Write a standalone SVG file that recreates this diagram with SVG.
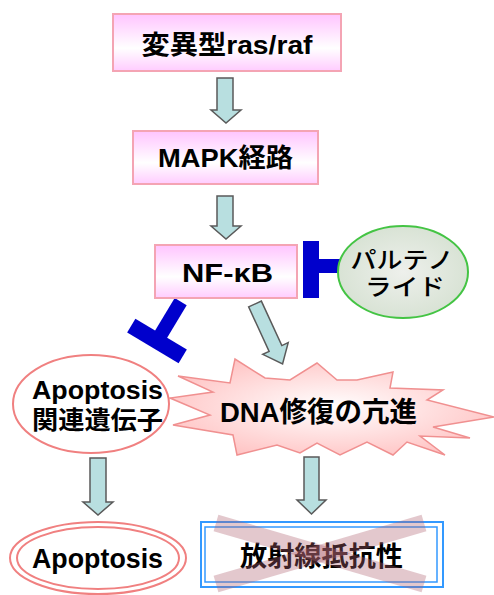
<svg xmlns="http://www.w3.org/2000/svg" width="494" height="595" viewBox="0 0 494 595">
<defs>
<linearGradient id="pinkBox" x1="0" y1="0" x2="0" y2="1">
<stop offset="0" stop-color="#ffc4ff"/>
<stop offset="0.6" stop-color="#ffffff"/>
<stop offset="1" stop-color="#ffccff"/>
</linearGradient>
<radialGradient id="burst" cx="0.5" cy="0.5" r="0.6">
<stop offset="0" stop-color="#ffffff"/>
<stop offset="1" stop-color="#ffc0c0"/>
</radialGradient>
<radialGradient id="green" cx="0.5" cy="0.5" r="0.6">
<stop offset="0" stop-color="#eef0ec"/>
<stop offset="1" stop-color="#d4e0d0"/>
</radialGradient>
</defs>
<style>
.box{fill:url(#pinkBox);stroke:#f4a4b4;stroke-width:2}
.arrow{fill:#b8dfe0;stroke:#5a5a5a;stroke-width:1.5;stroke-linejoin:miter}
.inh{fill:#0000cc}
.t{font-family:"Liberation Sans","Noto Sans CJK JP",sans-serif;font-weight:bold;fill:#000;text-anchor:middle}
.tn{font-family:"Liberation Sans","Noto Sans CJK JP",sans-serif;font-weight:500;fill:#000;text-anchor:middle}
.ell{fill:#fff;stroke:#f08080;stroke-width:2}
</style>

<g id="connectors">
<path class="arrow" d="M217,78 H233 V110 H241 L226,123 L211,110 H217 Z"/>
<path class="arrow" d="M217,196 H233 V226 H241 L226,239 L211,226 H217 Z"/>
<path class="arrow" transform="translate(255,304) rotate(-24.7)" d="M-7,0 H7 V49 H14 L0,66 L-14,49 H-7 Z"/>
<path class="arrow" d="M90,458 H106 V502 H113 L98,515 L83,502 H90 Z"/>
<path class="arrow" d="M304,457 H319 V500 H326 L311.5,514 L297,500 H304 Z"/>
<g id="inhibit-right">
<rect class="inh" x="303" y="241" width="16" height="57"/>
<rect class="inh" x="318" y="259" width="26" height="14"/>
</g>
<g id="inhibit-left" transform="translate(157,341) rotate(31)">
<rect class="inh" x="-30" y="-8" width="60" height="16"/>
<rect class="inh" x="-7" y="-46" width="14" height="40"/>
</g>
</g>

<g id="node-rasraf">
<rect class="box" x="113" y="14" width="228" height="57"/>
<text class="t" x="227" y="54" font-size="26" textLength="171" lengthAdjust="spacingAndGlyphs">変異型ras/raf</text>
</g>

<g id="node-mapk">
<rect class="box" x="133" y="131" width="185" height="53"/>
<text class="t" x="225.5" y="167" font-size="26" textLength="135" lengthAdjust="spacingAndGlyphs">MAPK経路</text>
</g>

<g id="node-nfkb">
<rect class="box" x="155" y="245" width="142" height="53"/>
<text class="t" x="227.5" y="282" font-size="26" textLength="91" lengthAdjust="spacingAndGlyphs">NF-κB</text>
</g>

<g id="node-bortezomib">
<ellipse cx="403" cy="272" rx="65" ry="46" fill="url(#green)" stroke="#44c444" stroke-width="2"/>
<text class="tn" font-size="23"><tspan x="402" y="268" textLength="103" lengthAdjust="spacingAndGlyphs">パルテノ</tspan><tspan x="405" y="295" textLength="80" lengthAdjust="spacingAndGlyphs">ライド</tspan></text>
</g>

<g id="node-dna">
<path d="M178,376 L213,392 L170,398 L210,415 L173,425 L233,435 L237,455 L277,445 L300,453 L317,443 L340,455 L367,442 L393,455 L407,442 L445,455 L420,436 L470,438 L433,427 L494,417 L427,400 L443,390 L390,388 L393,372 L357,380 L337,380 L317,363 L290,380 L265,378 L235,359 L230,383 Z" fill="url(#burst)" stroke="#f09090" stroke-width="1.5" stroke-linejoin="miter"/>
<text class="t" x="318.5" y="422" font-size="28" textLength="197" lengthAdjust="spacingAndGlyphs">DNA修復の亢進</text>
</g>

<g id="node-apogenes">
<ellipse class="ell" cx="91" cy="404" rx="78" ry="49"/>
<text class="t"><tspan x="97.5" y="399" font-size="26" textLength="131" lengthAdjust="spacingAndGlyphs">Apoptosis</tspan><tspan x="97.5" y="429" font-size="25" textLength="131" lengthAdjust="spacingAndGlyphs">関連遺伝子</tspan></text>
</g>

<g id="node-apoptosis">
<ellipse class="ell" cx="98" cy="558" rx="88" ry="36"/>
<ellipse cx="98" cy="558" rx="81" ry="31" fill="none" stroke="#f08080" stroke-width="2"/>
<text class="t" x="97.5" y="568" font-size="28" textLength="131" lengthAdjust="spacingAndGlyphs">Apoptosis</text>
</g>

<g id="node-radioresistance">
<rect x="201" y="522" width="242" height="65" fill="#fff" stroke="#3399ff" stroke-width="2"/>
<rect x="205" y="527" width="232" height="55" fill="none" stroke="#3399ff" stroke-width="1.5"/>
<text class="t" x="321.5" y="566" font-size="27" textLength="163" lengthAdjust="spacingAndGlyphs">放射線抵抗性</text>
<g stroke="#b06070" stroke-opacity="0.35" stroke-width="17" stroke-linecap="butt">
<line x1="216" y1="523" x2="424" y2="584"/>
<line x1="216" y1="584" x2="424" y2="523"/>
</g>
</g>
</svg>
